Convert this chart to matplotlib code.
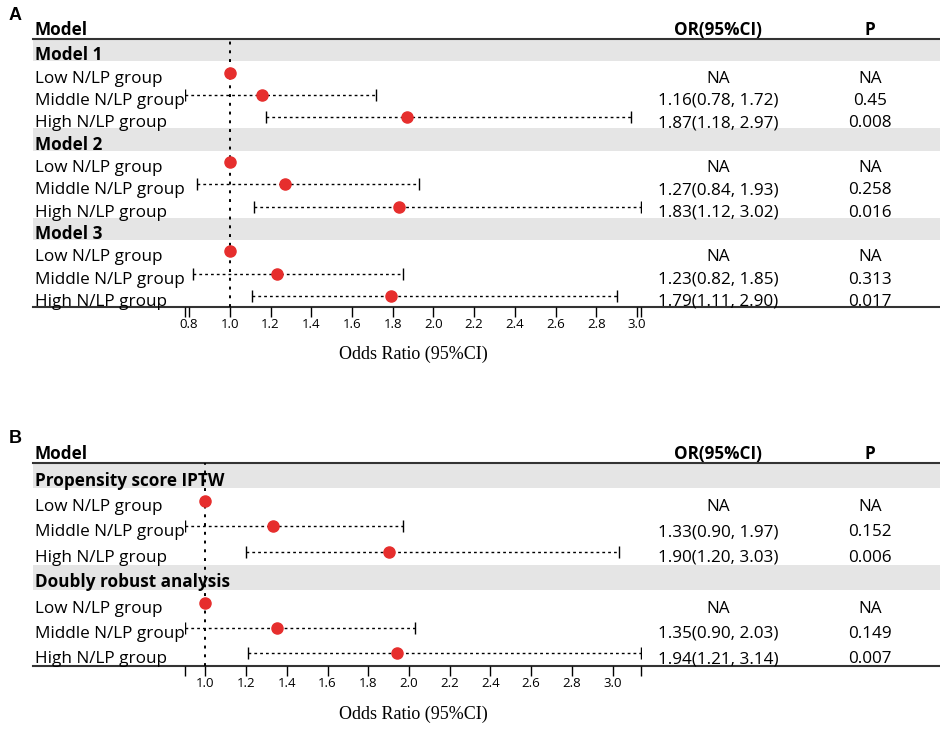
import numpy as np
import matplotlib
matplotlib.use("Agg")
import matplotlib.pyplot as plt
from matplotlib.transforms import offset_copy

# --- DATA ---
levels = ["Low N/LP group", "Middle N/LP group", "High N/LP group"]

groups_A = ["Model 1", "Model 2", "Model 3"]
or_A = [[1.00, 1.16, 1.87], [1.00, 1.27, 1.83], [1.00, 1.23, 1.79]]
lo_A = [[np.nan, 0.78, 1.18], [np.nan, 0.84, 1.12], [np.nan, 0.82, 1.11]]
hi_A = [[np.nan, 1.72, 2.97], [np.nan, 1.93, 3.02], [np.nan, 1.85, 2.90]]
p_A = [["NA", "0.45", "0.008"], ["NA", "0.258", "0.016"], ["NA", "0.313", "0.017"]]
ticks_A = [0.8, 1.0, 1.2, 1.4, 1.6, 1.8, 2.0, 2.2, 2.4, 2.6, 2.8, 3.0]

groups_B = ["Propensity score IPTW", "Doubly robust analysis"]
or_B = [[1.00, 1.33, 1.90], [1.00, 1.35, 1.94]]
lo_B = [[np.nan, 0.90, 1.20], [np.nan, 0.90, 1.21]]
hi_B = [[np.nan, 1.97, 3.03], [np.nan, 2.03, 3.14]]
p_B = [["NA", "0.152", "0.006"], ["NA", "0.149", "0.007"]]
ticks_B = [1.0, 1.2, 1.4, 1.6, 1.8, 2.0, 2.2, 2.4, 2.6, 2.8, 3.0]

W, H = 940, 729
FONT = "Open Sans"
FS = 12.3
RED = "#e62e2d"
GRAY = "#e5e5e5"

fig = plt.figure(figsize=(W / 100, H / 100), dpi=100)


def fx(px):
    return px / W


def fy(py):
    return 1 - py / H


def panel(letter, groups, ors, los, his, ps, ticks, top, bottom, letter_y, label_y):
    n = len(groups) * 4
    # table axes (full width)
    tab = fig.add_axes([fx(33), fy(bottom), fx(940 - 33), fy(top) - fy(bottom)])
    tab.set_xlim(0, 1)
    tab.set_ylim(n - 0.5, -0.5)
    tab.axis("off")
    # text baseline sits ~10 px under the row centre
    row_tr = offset_copy(tab.transData, fig=fig, y=-10, units="dots")
    head_tr = offset_copy(tab.transData, fig=fig, y=4, units="dots")

    # forest axes
    x0 = np.nanmin(np.array(los))
    x1 = np.nanmax(np.array(his))
    fa = fig.add_axes([fx(185), fy(bottom), fx(641 - 185), fy(top) - fy(bottom)])
    fa.set_xlim(x0, x1)
    fa.set_ylim(n - 0.5, -0.5)
    fa.patch.set_alpha(0)
    for s in fa.spines.values():
        s.set_visible(False)
    fa.set_yticks([])

    def tx(px):
        return (px - 33) / (940 - 33)

    row = 0
    for g, grp in enumerate(groups):
        tab.axhspan(row - 0.5, row + 0.5, color=GRAY, lw=0, zorder=0)
        tab.text(0.002, row, grp, fontsize=FS, fontweight="bold", family=FONT,
                 va="baseline", ha="left", transform=row_tr)
        row += 1
        for k, lev in enumerate(levels):
            tab.text(0.002, row, lev, fontsize=FS, family=FONT, va="baseline", ha="left",
                     transform=row_tr)
            o, lo, hi = ors[g][k], los[g][k], his[g][k]
            if np.isnan(lo):
                or_txt = "NA"
            else:
                or_txt = f"{o:.2f}({lo:.2f}, {hi:.2f})"
                fa.hlines(row, lo, hi, colors="black", linestyles=(0, (2, 2.2)), lw=1, zorder=2)
                fa.plot([lo, hi], [row, row], ls="none", marker="|", ms=9, mew=1,
                        color="black", zorder=2)
            fa.plot(o, row, "o", ms=8, color=RED, mec=RED, zorder=4, clip_on=False)
            tab.text(tx(718), row, or_txt, fontsize=FS, family=FONT, va="baseline",
                     ha="center", transform=row_tr)
            tab.text(tx(870), row, ps[g][k], fontsize=FS, family=FONT, va="baseline",
                     ha="center", transform=row_tr)
            row += 1

    # reference line
    fa.axvline(1.0, color="black", ls=(0, (1.5, 3)), lw=1.4, zorder=3)

    # headers
    for xx, txt, ha in [(0.002, "Model", "left"), (tx(718), "OR(95%CI)", "center"),
                        (tx(870), "P", "center")]:
        tab.text(xx, -0.5, txt, fontsize=FS, fontweight="bold", family=FONT,
                 va="baseline", ha=ha, clip_on=False, transform=head_tr)
    tab.axhline(-0.5, color="#333333", lw=1.5, clip_on=False)
    tab.axhline(n - 0.5, color="#333333", lw=1.5, clip_on=False)

    # x axis ticks
    all_ticks = [x0] + ticks + [x1]
    fa.set_xticks(all_ticks)
    fa.set_xticklabels([""] + [f"{t:.1f}" for t in ticks] + [""], family=FONT, fontsize=9.5)
    fa.tick_params(axis="x", direction="out", length=7, width=1, pad=1)
    fa.set_xlabel("Odds Ratio (95%CI)", family="Liberation Serif", fontsize=13, va="center")
    fa.xaxis.set_label_coords(fx(413), fy(label_y), transform=fig.transFigure)

    fig.text(fx(15), fy(letter_y), letter, fontsize=13, fontweight="bold",
             family="Liberation Sans", va="center", ha="center")


panel("A", groups_A, or_A, lo_A, hi_A, p_A, ticks_A, 39, 307, 16, 354)
panel("B", groups_B, or_B, lo_B, hi_B, p_B, ticks_B, 463, 666, 438, 714)

fig.savefig("out.png", dpi=100)
